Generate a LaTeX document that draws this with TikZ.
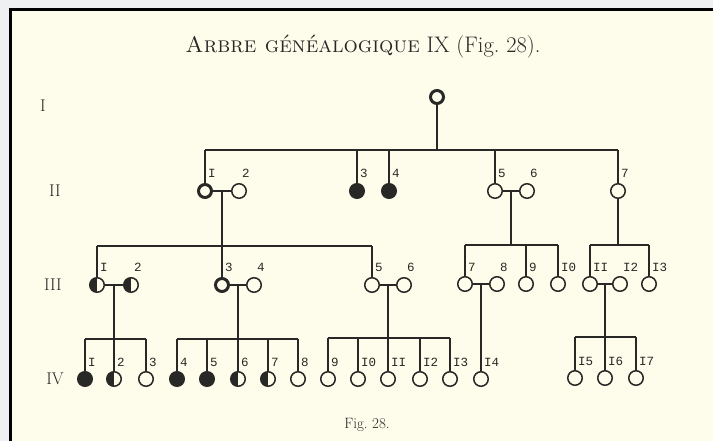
\documentclass[tikz,border=0pt]{standalone}
\usepackage{fontspec}
\newfontfamily\labfont{Liberation Mono}
\usetikzlibrary{calc}
\definecolor{paper}{RGB}{254,253,236}
\definecolor{outer}{RGB}{238,240,242}
\definecolor{inkc}{RGB}{40,40,38}
\begin{document}
\begin{tikzpicture}[x=1pt,y=-1pt,
  ink/.style={draw=inkc, line width=1.2pt},
  pers/.style={circle, draw=inkc, line width=1.5pt, minimum size=14.5pt, inner sep=0pt, fill=paper},
  ring/.style={pers, line width=3pt, minimum size=13pt},
  aff/.style={pers, fill=inkc},
  half/.style={pers, path picture={\fill[inkc] (path picture bounding box.south west) rectangle (path picture bounding box.north);}},
  lab/.style={font=\labfont\fontsize{12.5}{12.5}\selectfont, inner sep=0pt, anchor=base west, text=inkc},
  gen/.style={font=\fontsize{17}{17}\selectfont, text=inkc, inner sep=0pt}
]
\useasboundingbox (0,0) rectangle (713,441);
\fill[outer] (0,0) rectangle (713,441);
\fill[paper] (10,9) rectangle (713,441);
\draw[black, line width=2.5pt] (10.5,441) -- (10.5,9.5) -- (713,9.5);

% title and captions
\node[text=inkc] (title) at (363,47) {\fontsize{22.5}{22.5}\selectfont\textsc{Arbre généalogique} IX (Fig.~28).};
\node[text=inkc] (fig) at (367,425) {\fontsize{15}{15}\selectfont Fig.~28.};
\node[gen] (gI) at (43,106) {I};
\node[gen] (gII) at (55,191) {II};
\node[gen] (gIII) at (53,285) {III};
\node[gen] (gIV) at (55,379) {IV};

% generation I
\node[ring] (g1) at (437,97) {};
% generation II
\node[ring] (a1) at (205,191) {};
\node[pers] (a2) at (239,191) {};
\node[aff]  (a3) at (357,191) {};
\node[aff]  (a4) at (389,191) {};
\node[pers] (a5) at (495,191) {};
\node[pers] (a6) at (527,191) {};
\node[pers] (a7) at (618,191) {};
% generation III
\node[half] (b1) at (97,285) {};
\node[half] (b2) at (131,285) {};
\node[ring] (b3) at (222,285) {};
\node[pers] (b4) at (254,285) {};
\node[pers] (b5) at (372,285) {};
\node[pers] (b6) at (404,285) {};
\node[pers] (b7) at (465,284) {};
\node[pers] (b8) at (497,284) {};
\node[pers] (b9) at (526,284) {};
\node[pers] (b10) at (558,284) {};
\node[pers] (b11) at (590,284) {};
\node[pers] (b12) at (620,284) {};
\node[pers] (b13) at (649,284) {};
% generation IV
\node[aff]  (c1) at (85,379) {};
\node[half] (c2) at (114,379) {};
\node[pers] (c3) at (146,379) {};
\node[aff]  (c4) at (177,379) {};
\node[aff]  (c5) at (207,379) {};
\node[half] (c6) at (238,379) {};
\node[half] (c7) at (268,379) {};
\node[pers] (c8) at (298,379) {};
\node[pers] (c9) at (328,379) {};
\node[pers] (c10) at (358,379) {};
\node[pers] (c11) at (388,379) {};
\node[pers] (c12) at (420,379) {};
\node[pers] (c13) at (450,379) {};
\node[pers] (c14) at (481,379) {};
\node[pers] (c15) at (575,378) {};
\node[pers] (c16) at (605,378) {};
\node[pers] (c17) at (636,378) {};

% marriage lines
\foreach \p/\q in {a1/a2,a5/a6,b1/b2,b3/b4,b5/b6,b7/b8,b11/b12}
  \draw[ink] (\p) -- (\q);
\coordinate (mA) at ($(a1)!.5!(a2)$);
\coordinate (mB) at ($(a5)!.5!(a6)$);
\coordinate (mC) at ($(b1)!.5!(b2)$);
\coordinate (mD) at ($(b3)!.5!(b4)$);
\coordinate (mE) at ($(b5)!.5!(b6)$);
\coordinate (mF) at ($(b7)!.5!(b8)$);
\coordinate (mG) at ($(b11)!.5!(b12)$);

% I -> II
\draw[ink] (g1) -- (g1 |- 0,150);
\draw[ink] (a1 |- 0,150) -- (a7 |- 0,150);
\foreach \n in {a1,a3,a4,a5,a7} \draw[ink] (\n |- 0,150) -- (\n);

% II -> III
\draw[ink] (mA) -- (b3);
\draw[ink] (b1 |- 0,246) -- (b5 |- 0,246);
\foreach \n in {b1,b5} \draw[ink] (\n |- 0,246) -- (\n);
\draw[ink] (mB) -- (mB |- 0,245);
\draw[ink] (b7 |- 0,245) -- (b10 |- 0,245);
\foreach \n in {b7,b9,b10} \draw[ink] (\n |- 0,245) -- (\n);
\draw[ink] (a7) -- (a7 |- 0,245);
\draw[ink] (b11 |- 0,245) -- (b13 |- 0,245);
\foreach \n in {b11,b13} \draw[ink] (\n |- 0,245) -- (\n);

% III -> IV
\draw[ink] (mC) -- (c2);
\draw[ink] (c1 |- 0,339) -- (c3 |- 0,339);
\foreach \n in {c1,c3} \draw[ink] (\n |- 0,339) -- (\n);
\draw[ink] (mD) -- (c6);
\draw[ink] (c4 |- 0,339) -- (c8 |- 0,339);
\foreach \n in {c4,c5,c7,c8} \draw[ink] (\n |- 0,339) -- (\n);
\draw[ink] (mE) -- (c11);
\draw[ink] (c9 |- 0,338) -- (c13 |- 0,338);
\foreach \n in {c9,c10,c12,c13} \draw[ink] (\n |- 0,338) -- (\n);
\draw[ink] (mF) -- (c14);
\draw[ink] (mG) -- (c16);
\draw[ink] (c15 |- 0,337) -- (c17 |- 0,337);
\foreach \n in {c15,c17} \draw[ink] (\n |- 0,337) -- (\n);

% labels
\foreach \n/\t in {a1/I,a2/2,a3/3,a4/4,a5/5,a6/6,a7/7,
  b1/I,b2/2,b3/3,b4/4,b5/5,b6/6,b7/7,b8/8,b9/9,b10/I0,b11/II,b12/I2,b13/I3,
  c1/I,c2/2,c3/3,c4/4,c5/5,c6/6,c7/7,c8/8,c9/9,c10/I0,c11/II,c12/I2,c13/I3,c14/I4,c15/I5,c16/I6,c17/I7}
  \node[lab] (l\n) at ([shift={(3,-13)}]\n.center) {\t};
\end{tikzpicture}
\end{document}
